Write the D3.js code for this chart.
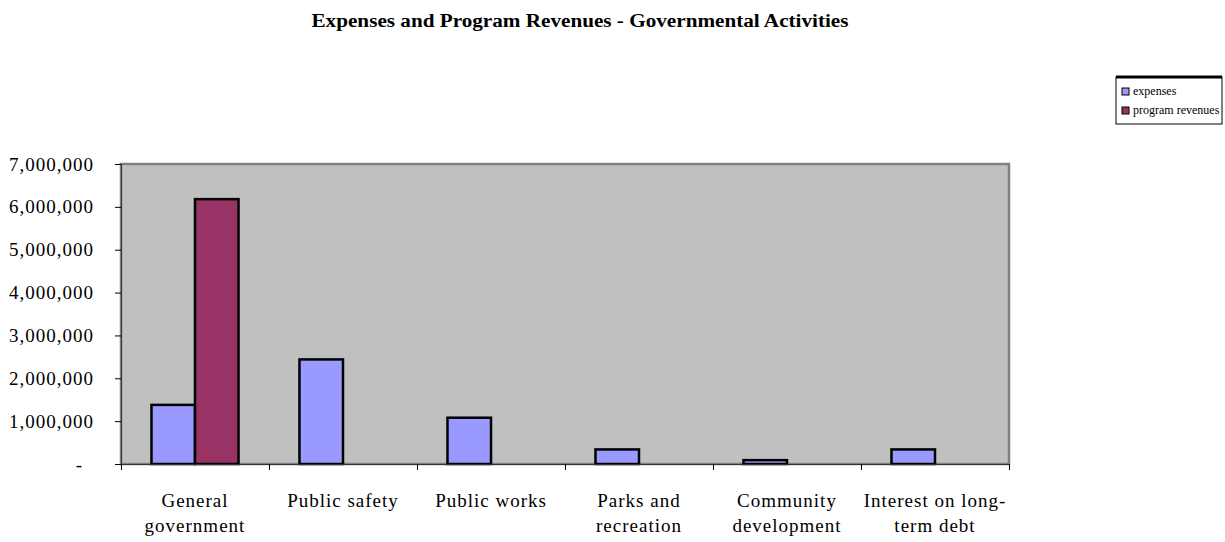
<!DOCTYPE html>
<html>
<head>
<meta charset="utf-8">
<script src="https://cdn.jsdelivr.net/npm/d3@7"></script>
<style>
  body { margin: 0; background: #fff; }
  svg { display: block; font-family: "Liberation Serif", "Times New Roman", serif; }
</style>
</head>
<body>
<div id="chart"></div>
<script>
// expenses vs program revenues, Excel-style clustered column chart

const categories = [
  ["General", "government"],
  ["Public safety"],
  ["Public works"],
  ["Parks and", "recreation"],
  ["Community", "development"],
  ["Interest on long-", "term debt"]
];
const seriesNames = ["expenses", "program revenues"];
const expenses = [1380000, 2440000, 1080000, 340000, 90000, 340000];
const programRevenues = [6180000, 0, 0, 0, 0, 0];
const yTicks = [0, 1000000, 2000000, 3000000, 4000000, 5000000, 6000000, 7000000];
const seriesColors = ["#9999FF", "#993366"];

const width = 1225, height = 542;
const plot = { left: 121, top: 164, right: 1009, bottom: 464 };
const serif = '"Liberation Serif", "Times New Roman", serif';

const svg = d3.select("#chart").append("svg")
  .attr("width", width)
  .attr("height", height);

// title (stretched a bit like the original)
svg.append("text")
  .attr("x", 580)
  .attr("y", 27)
  .attr("text-anchor", "middle")
  .attr("textLength", 537)
  .attr("lengthAdjust", "spacingAndGlyphs")
  .style("font-size", "18px")
  .style("font-weight", "bold")
  .text("Expenses and Program Revenues - Governmental Activities");

// scales
const x0 = d3.scaleBand()
  .domain(d3.range(categories.length))
  .range([plot.left, plot.right])
  .paddingInner(0)
  .paddingOuter(0);

const x1 = d3.scaleBand()
  .domain(seriesNames)
  .range([0, x0.bandwidth()])
  .paddingInner(0)
  .paddingOuter(0.7);

const y = d3.scaleLinear()
  .domain([0, 7000000])
  .range([plot.bottom, plot.top]);

// plot area
svg.append("rect")
  .attr("x", plot.left)
  .attr("y", plot.top)
  .attr("width", plot.right - plot.left)
  .attr("height", plot.bottom - plot.top)
  .attr("fill", "#C0C0C0")
  .attr("stroke", "#808080")
  .attr("stroke-width", 2.5);

// bars
const rows = categories.map((c, i) => ({ i: i, values: [expenses[i], programRevenues[i]] }));

const groups = svg.append("g").selectAll("g")
  .data(rows)
  .enter()
  .append("g")
  .attr("transform", d => "translate(" + x0(d.i) + ",0)");

groups.selectAll("rect")
  .data(d => d.values.map((v, k) => ({ key: seriesNames[k], k: k, v: v })).filter(e => e.v > 0))
  .enter()
  .append("rect")
  .attr("x", d => x1(d.key))
  .attr("y", d => y(d.v))
  .attr("width", x1.bandwidth())
  .attr("height", d => y(0) - y(d.v))
  .attr("fill", d => seriesColors[d.k])
  .attr("stroke", "#000")
  .attr("stroke-width", 2.5);

// y axis
const yAxis = d3.axisLeft(y)
  .tickValues(yTicks)
  .tickSize(6)
  .tickPadding(21)
  .tickFormat(d => d === 0 ? "-" : d3.format(",")(d));

const gy = svg.append("g")
  .attr("transform", "translate(" + plot.left + ",0)")
  .call(yAxis);
gy.attr("font-family", serif);
gy.select(".domain").attr("stroke", "#333");
gy.selectAll(".tick line").attr("stroke", "#000");
gy.selectAll(".tick text")
  .style("font-size", "19px")
  .style("letter-spacing", "1px")
  .attr("fill", "#000")
  .attr("dx", d => d === 0 ? -11 : 0);

// x axis
const xAxis = d3.axisBottom(d3.scaleLinear().domain([0, categories.length]).range([plot.left, plot.right]))
  .tickValues(d3.range(categories.length + 1))
  .tickSize(6)
  .tickFormat("");

const gx = svg.append("g")
  .attr("transform", "translate(0," + plot.bottom + ")")
  .call(xAxis);
gx.select(".domain").attr("stroke", "#333");
gx.selectAll(".tick line").attr("stroke", "#000");

// category labels
const labels = svg.append("g").selectAll("text")
  .data(categories)
  .enter()
  .append("text")
  .attr("x", (d, i) => x0(i) + x0.bandwidth() / 2)
  .attr("y", 507)
  .attr("text-anchor", "middle")
  .style("font-size", "19px")
  .style("letter-spacing", "1px");

labels.selectAll("tspan")
  .data(d => d)
  .enter()
  .append("tspan")
  .attr("x", function () { return this.parentNode.getAttribute("x"); })
  .attr("dy", (d, i) => i === 0 ? 0 : 25)
  .text(d => d);

// legend
const legend = svg.append("g").attr("transform", "translate(1116,77)");
legend.append("rect")
  .attr("width", 106)
  .attr("height", 47)
  .attr("fill", "#fff")
  .attr("stroke", "#000")
  .attr("stroke-width", 1);
legend.append("line")
  .attr("x1", 0).attr("x2", 106)
  .attr("y1", 0).attr("y2", 0)
  .attr("stroke", "#000")
  .attr("stroke-width", 3);

const items = legend.selectAll(".item")
  .data(seriesNames)
  .enter()
  .append("g")
  .attr("class", "item")
  .attr("transform", (d, i) => "translate(6," + (11 + i * 19) + ")");

items.append("rect")
  .attr("width", 7)
  .attr("height", 7)
  .attr("fill", (d, i) => seriesColors[i])
  .attr("stroke", "#000")
  .attr("stroke-width", 1);

items.append("text")
  .attr("x", 11)
  .attr("y", 7)
  .style("font-size", "12px")
  .text(d => d);
</script>
</body>
</html>
